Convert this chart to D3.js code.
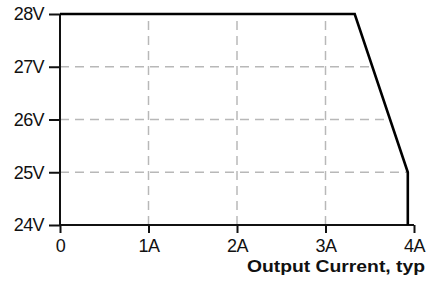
<!DOCTYPE html>
<html>
<head>
<meta charset="utf-8">
<script src="https://cdn.jsdelivr.net/npm/d3@7"></script>
<style>
  body { margin: 0; background: #fff; }
  svg text { font-family: "Liberation Sans", Arial, sans-serif; fill: #111; }
</style>
</head>
<body>
<svg width="429" height="281"></svg>
<script>
// derating curve: output voltage vs current
var currents = [0, 3.33, 3.93, 3.93];
var voltages = [28, 28, 25, 24];
var xTicks = [0, 1, 2, 3, 4];
var xTickLabels = ['0', '1A', '2A', '3A', '4A'];
var yTicks = [24, 25, 26, 27, 28];
var yTickLabels = ['24V', '25V', '26V', '27V', '28V'];
var xTitle = 'Output Current, typ';

var data = currents.map(function(c, i) {
	return {'I': c, 'V': voltages[i]};
});

var margins = {T: 14, B: 56, L: 60, R: 15};
var W = 429, H = 281;

var x = d3.scaleLinear()
				.domain([0, 4])
				.range([margins.L, W - margins.R]);
var y = d3.scaleLinear()
				.domain([24, 28])
				.range([H - margins.B, margins.T]);

var svg = d3.select('svg');

// clip grid to the area under the curve
var area = d3.area()
				.x(function(d) { return x(d['I']); })
				.y0(y(24))
				.y1(function(d) { return y(d['V']); });
svg.append('clipPath')
	.attr('id', 'under')
	.append('path')
	.attr('d', area(data));

var grid = svg.append('g')
	.attr('clip-path', 'url(#under)')
	.attr('stroke', '#b8b8b8')
	.attr('stroke-width', 1.5)
	.attr('stroke-dasharray', '9,6');

grid.selectAll('.vg')
	.data(xTicks.slice(1, 4))
	.enter().append('line')
	.attr('x1', function(d) { return x(d); })
	.attr('x2', function(d) { return x(d); })
	.attr('y1', y(24))
	.attr('y2', y(28));

grid.selectAll('.hg')
	.data(yTicks.slice(1, 4))
	.enter().append('line')
	.attr('x1', x(0))
	.attr('x2', x(4))
	.attr('y1', function(d) { return y(d); })
	.attr('y2', function(d) { return y(d); });

var xAxis = d3.axisBottom(x)
				.tickValues(xTicks)
				.tickSize(8)
				.tickPadding(6)
				.tickFormat(function(d, i) { return xTickLabels[i]; });

var yAxis = d3.axisLeft(y)
				.tickValues(yTicks)
				.tickSize(11)
				.tickPadding(5)
				.tickFormat(function(d, i) { return yTickLabels[i]; });

var gx = svg.append('g')
	.attr('transform', 'translate(0,' + y(24) + ')')
	.call(xAxis);
gx.select('.domain').attr('d', 'M' + x(0) + ',0H' + x(4));

var gy = svg.append('g')
	.attr('transform', 'translate(' + x(0) + ',0)')
	.call(yAxis);
gy.select('.domain').attr('d', 'M0,' + y(24) + 'V' + y(28));

svg.selectAll('.domain, .tick line')
	.attr('stroke', '#111')
	.attr('stroke-width', 2);
svg.selectAll('.tick text')
	.style('font-size', '18px')
	.style('letter-spacing', '-0.6px')
	.attr('fill', '#111');

svg.append('text')
	.attr('x', 425)
	.attr('y', 272)
	.attr('text-anchor', 'end')
	.attr('textLength', 178)
	.attr('lengthAdjust', 'spacingAndGlyphs')
	.style('font-size', '17px')
	.style('font-weight', 'bold')
	.text(xTitle);

var line = d3.line()
				.x(function(d) { return x(d['I']); })
				.y(function(d) { return y(d['V']); });
svg.append('path')
	.attr('d', line(data))
	.attr('fill', 'none')
	.attr('stroke', '#000')
	.attr('stroke-width', 2.6)
	.attr('stroke-linejoin', 'miter');
</script>
</body>
</html>
